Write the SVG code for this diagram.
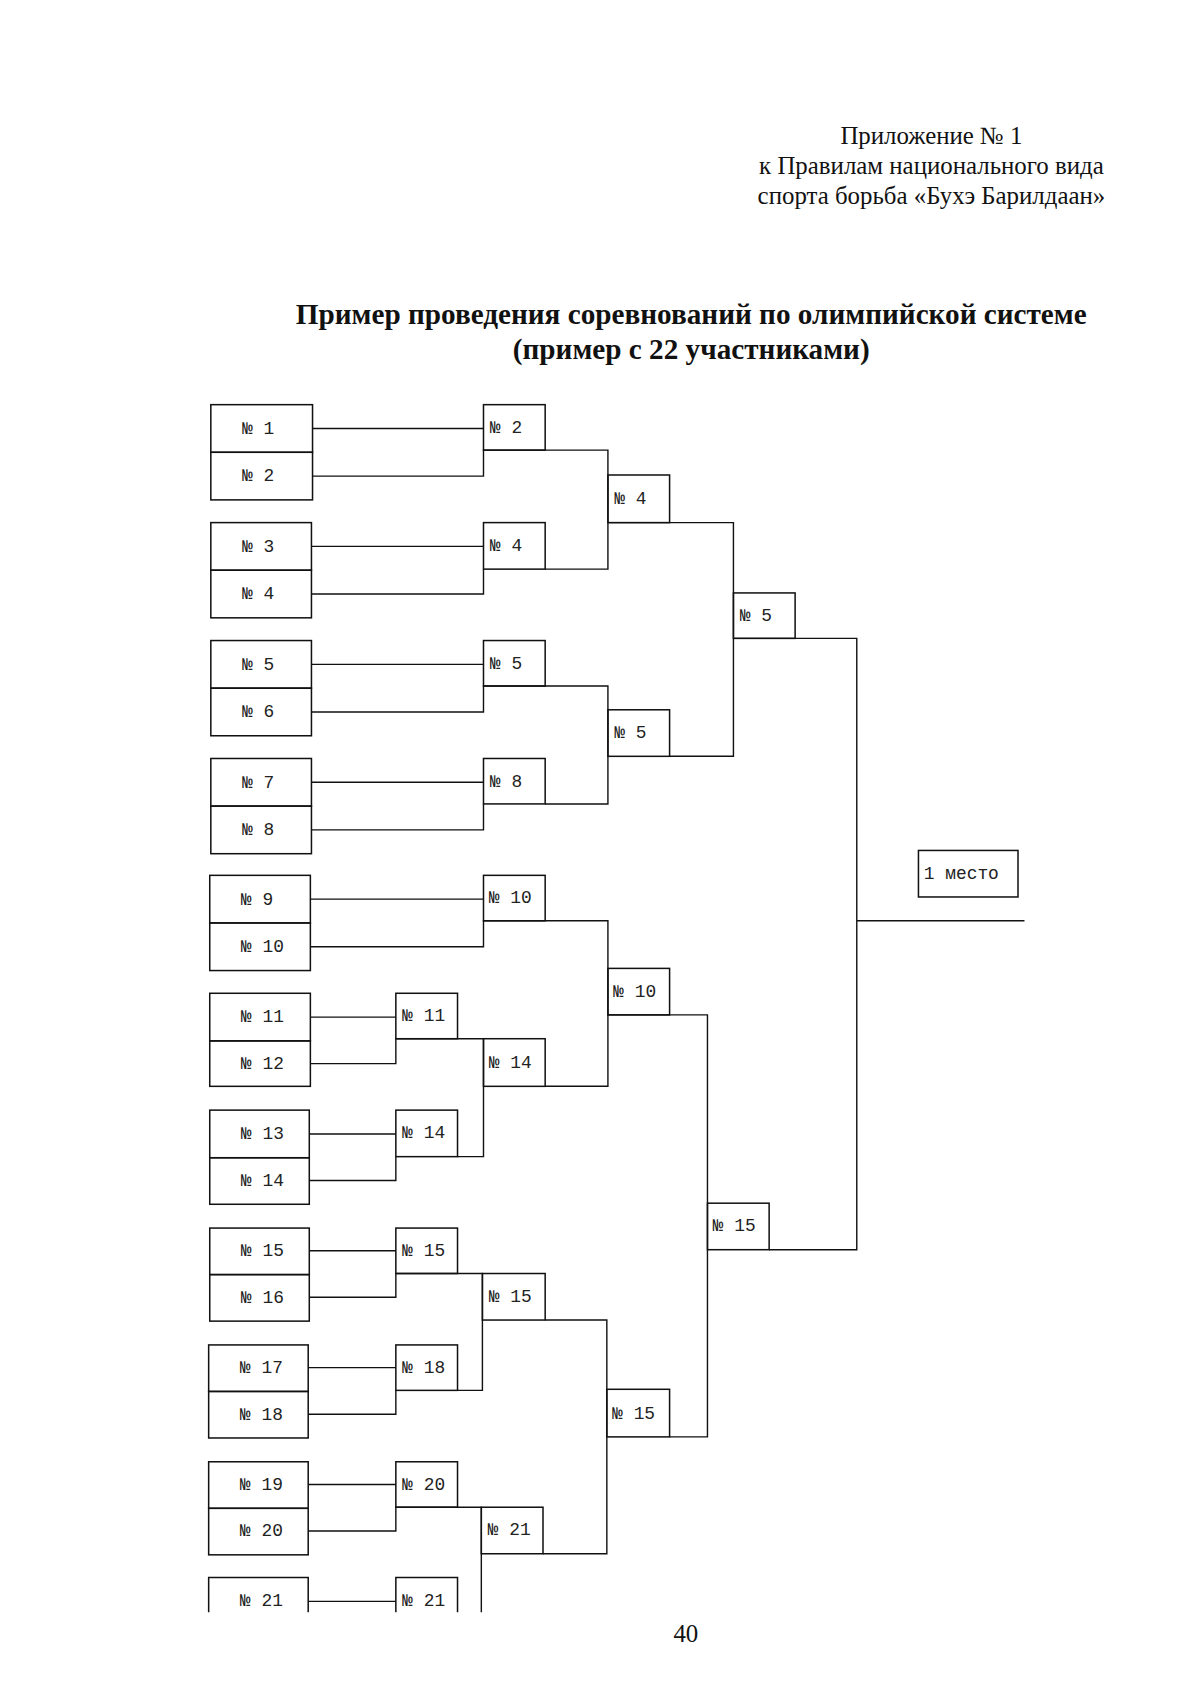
<svg xmlns="http://www.w3.org/2000/svg" width="1200" height="1698" viewBox="0 0 1200 1698">
<style>
.b{fill:none;stroke:#111;stroke-width:1.4}
.c{fill:none;stroke:#111;stroke-width:1.3}
.t{font-family:"Liberation Mono",monospace;font-size:16.5px;fill:#222}
.h{font-family:"Liberation Serif",serif;font-size:23px;fill:#111;text-anchor:middle}
.ti{font-family:"Liberation Serif",serif;font-size:27px;font-weight:bold;fill:#111;text-anchor:middle}
</style>
<rect width="1200" height="1698" fill="#fff"/>
<g transform="translate(2,0) scale(1.082)">
<g id="header">
<text class="h" x="859" y="133">Приложение № 1</text>
<text class="h" x="859" y="161">к Правилам национального вида</text>
<text class="h" x="859" y="189">спорта борьба «Бухэ Барилдаан»</text>
<text class="ti" x="637" y="299">Пример проведения соревнований по олимпийской системе</text>
<text class="ti" x="637" y="332">(пример с 22 участниками)</text>
</g>
<g id="entrants">
<g id="e1"><rect class="b" x="193" y="374" width="94" height="44"/><text class="t" x="222" y="401">№ 1</text></g>
<g id="e2"><rect class="b" x="193" y="418" width="94" height="44"/><text class="t" x="222" y="445">№ 2</text></g>
<g id="e3"><rect class="b" x="193" y="483" width="93" height="44"/><text class="t" x="222" y="510">№ 3</text></g>
<g id="e4"><rect class="b" x="193" y="527" width="93" height="44"/><text class="t" x="222" y="554">№ 4</text></g>
<g id="e5"><rect class="b" x="193" y="592" width="93" height="44"/><text class="t" x="222" y="619">№ 5</text></g>
<g id="e6"><rect class="b" x="193" y="636" width="93" height="44"/><text class="t" x="222" y="663">№ 6</text></g>
<g id="e7"><rect class="b" x="193" y="701" width="93" height="44"/><text class="t" x="222" y="728">№ 7</text></g>
<g id="e8"><rect class="b" x="193" y="745" width="93" height="44"/><text class="t" x="222" y="772">№ 8</text></g>
<g id="e9"><rect class="b" x="192" y="809" width="93" height="44"/><text class="t" x="221" y="836">№ 9</text></g>
<g id="e10"><rect class="b" x="192" y="853" width="93" height="44"/><text class="t" x="221" y="880">№ 10</text></g>
<g id="e11"><rect class="b" x="192" y="918" width="93" height="44"/><text class="t" x="221" y="945">№ 11</text></g>
<g id="e12"><rect class="b" x="192" y="962" width="93" height="42"/><text class="t" x="221" y="988">№ 12</text></g>
<g id="e13"><rect class="b" x="192" y="1026" width="92" height="44"/><text class="t" x="221" y="1053">№ 13</text></g>
<g id="e14"><rect class="b" x="192" y="1070" width="92" height="43"/><text class="t" x="221" y="1096">№ 14</text></g>
<g id="e15"><rect class="b" x="192" y="1135" width="92" height="43"/><text class="t" x="221" y="1161">№ 15</text></g>
<g id="e16"><rect class="b" x="192" y="1178" width="92" height="43"/><text class="t" x="221" y="1204">№ 16</text></g>
<g id="e17"><rect class="b" x="191" y="1243" width="92" height="43"/><text class="t" x="220" y="1269">№ 17</text></g>
<g id="e18"><rect class="b" x="191" y="1286" width="92" height="43"/><text class="t" x="220" y="1312">№ 18</text></g>
<g id="e19"><rect class="b" x="191" y="1351" width="92" height="43"/><text class="t" x="220" y="1377">№ 19</text></g>
<g id="e20"><rect class="b" x="191" y="1394" width="92" height="43"/><text class="t" x="220" y="1420">№ 20</text></g>
<g id="e21"><path class="b" d="M191,1490 V1458 H283 V1490"/><text class="t" x="220" y="1484">№ 21</text></g>
</g>
<g id="rounds">
<g id="r1a"><rect class="b" x="445" y="374" width="57" height="42"/><text class="t" x="451" y="400">№ 2</text></g>
<g id="r1b"><rect class="b" x="445" y="483" width="57" height="43"/><text class="t" x="451" y="509">№ 4</text></g>
<g id="r1c"><rect class="b" x="445" y="592" width="57" height="42"/><text class="t" x="451" y="618">№ 5</text></g>
<g id="r1d"><rect class="b" x="445" y="701" width="57" height="42"/><text class="t" x="451" y="727">№ 8</text></g>
<g id="r1e"><rect class="b" x="445" y="809" width="57" height="42"/><text class="t" x="450" y="835">№ 10</text></g>
<g id="r1f"><rect class="b" x="364" y="918" width="57" height="42"/><text class="t" x="370" y="944">№ 11</text></g>
<g id="r1g"><rect class="b" x="364" y="1026" width="57" height="43"/><text class="t" x="370" y="1052">№ 14</text></g>
<g id="r1h"><rect class="b" x="364" y="1135" width="57" height="42"/><text class="t" x="370" y="1161">№ 15</text></g>
<g id="r1i"><rect class="b" x="364" y="1243" width="57" height="42"/><text class="t" x="370" y="1269">№ 18</text></g>
<g id="r1j"><rect class="b" x="364" y="1351" width="57" height="42"/><text class="t" x="370" y="1377">№ 20</text></g>
<g id="r1k"><path class="b" d="M364,1490 V1458 H421 V1490"/><text class="t" x="370" y="1484">№ 21</text></g>
<g id="r2a"><rect class="b" x="560" y="439" width="57" height="44"/><text class="t" x="566" y="466">№ 4</text></g>
<g id="r2b"><rect class="b" x="560" y="656" width="57" height="43"/><text class="t" x="566" y="682">№ 5</text></g>
<g id="r2c"><rect class="b" x="445" y="960" width="57" height="44"/><text class="t" x="450" y="987">№ 14</text></g>
<g id="r2d"><rect class="b" x="560" y="895" width="57" height="43"/><text class="t" x="565" y="921">№ 10</text></g>
<g id="r2e"><rect class="b" x="444" y="1177" width="58" height="43"/><text class="t" x="450" y="1203">№ 15</text></g>
<g id="r2f"><rect class="b" x="443" y="1393" width="57" height="43"/><text class="t" x="449" y="1419">№ 21</text></g>
<g id="r3a"><rect class="b" x="676" y="548" width="57" height="42"/><text class="t" x="682" y="574">№ 5</text></g>
<g id="r3b"><rect class="b" x="559" y="1284" width="58" height="44"/><text class="t" x="564" y="1311">№ 15</text></g>
<g id="r4"><rect class="b" x="652" y="1112" width="57" height="43"/><text class="t" x="657" y="1138">№ 15</text></g>
<g id="first"><rect class="b" x="847" y="786" width="92" height="43"/><text class="t" x="852" y="812">1 место</text></g>
</g>
<g id="connectors">
<path class="c" d="M287,396 H445 M287,440 H445 V416 H560 V526 H502"/>
<path class="c" d="M286,505 H445 M286,549 H445 V526"/>
<path class="c" d="M286,614 H445 M286,658 H445 V634 H560 V743 H502"/>
<path class="c" d="M286,723 H445 M286,767 H445 V743"/>
<path class="c" d="M560,483 H676 V699 H617"/>
<path class="c" d="M676,590 H790 V1155 H709 M790,851 H945"/>
<path class="c" d="M285,831 H445 M285,875 H445 V851 H560 V1004 H502"/>
<path class="c" d="M285,940 H364 M285,983 H364 V960 H445 V1069 H421"/>
<path class="c" d="M284,1048 H364 M284,1091 H364 V1069"/>
<path class="c" d="M560,938 H652 V1328 H617"/>
<path class="c" d="M284,1156 H364 M284,1199 H364 V1177 H444 V1285 H421"/>
<path class="c" d="M283,1264 H364 M283,1307 H364 V1285"/>
<path class="c" d="M502,1220 H559 V1436 H500"/>
<path class="c" d="M283,1372 H364 M283,1415 H364 V1393 H443 V1490"/>
<path class="c" d="M283,1480 H364"/>
</g>
<text class="h" x="632" y="1518">40</text>
</g>
</svg>
